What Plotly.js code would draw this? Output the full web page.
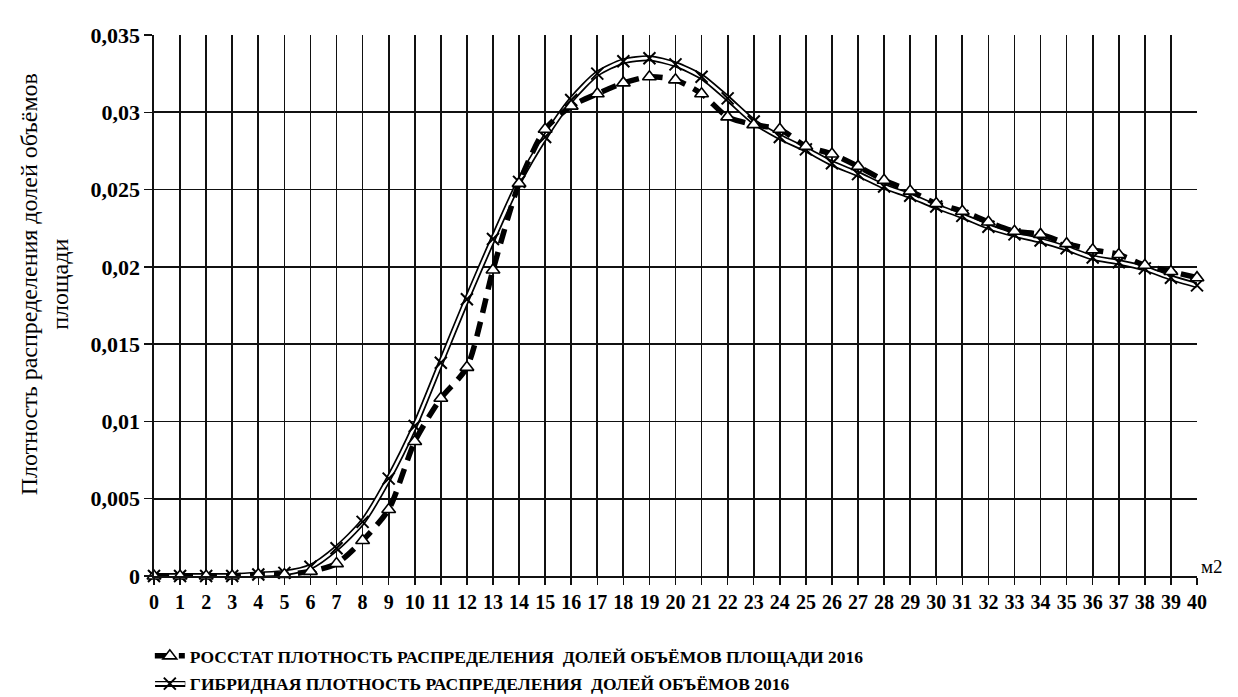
<!DOCTYPE html>
<html>
<head>
<meta charset="utf-8">
<script src="https://cdn.plot.ly/plotly-3.0.1.min.js"></script>
<style>html,body{margin:0;padding:0;background:#fff;}#chart{width:1238px;height:697px;}</style>
</head>
<body>
<div id="chart"></div>
<script>
const area = [0,1,2,3,4,5,6,7,8,9,10,11,12,13,14,15,16,17,18,19,20,21,22,23,24,25,26,27,28,29,30,31,32,33,34,35,36,37,38,39,40];
const rosstat = [0,0,0,0,0.0001,0.0001,0.0003,0.0008,0.0023,0.0043,0.0087,0.0115,0.0135,0.0198,0.0254,0.0289,0.0304,0.0312,0.0319,0.0323,0.0321,0.0312,0.0297,0.0292,0.0289,0.0278,0.0273,0.0265,0.0256,0.0249,0.0241,0.0236,0.0229,0.0223,0.0221,0.0215,0.0211,0.0208,0.0201,0.0197,0.0193];
const hybrid = [0,0,0,0,0.0001,0.0002,0.0006,0.0018,0.0035,0.0063,0.0097,0.0138,0.0179,0.0218,0.0255,0.0284,0.0308,0.0325,0.0333,0.0335,0.0331,0.0323,0.0309,0.0294,0.0284,0.0276,0.0267,0.026,0.0252,0.0246,0.0239,0.0233,0.0226,0.0221,0.0217,0.0212,0.0206,0.0203,0.0199,0.0193,0.0188];
const yTickVals = [0,0.005,0.01,0.015,0.02,0.025,0.03,0.035];
const yTickText = ['0','0,005','0,01','0,015','0,02','0,025','0,03','0,035'];
const nameRosstat = 'РОССТАТ ПЛОТНОСТЬ РАСПРЕДЕЛЕНИЯ  ДОЛЕЙ ОБЪЁМОВ ПЛОЩАДИ 2016';
const nameHybrid = 'ГИБРИДНАЯ ПЛОТНОСТЬ РАСПРЕДЕЛЕНИЯ  ДОЛЕЙ ОБЪЁМОВ 2016';
const yTitle = 'Плотность распределения долей объёмов<br>площади';
const xUnit = 'м2';

const serif = 'Liberation Serif, serif';

const traces = [
  {x: area, y: hybrid, mode: 'lines', showlegend: false, hoverinfo: 'skip', legendgroup: 'b',
   line: {color: '#000', width: 6, shape: 'spline', smoothing: 0.7}, cliponaxis: false},
  {x: area, y: hybrid, mode: 'lines+markers', name: nameHybrid, legendrank: 2, legendgroup: 'b',
   line: {color: '#fff', width: 2.6, shape: 'spline', smoothing: 0.7},
   marker: {symbol: 'x-thin', size: 12, color: '#000', line: {color: '#000', width: 2}}, cliponaxis: false},
  {x: area, y: rosstat, mode: 'lines+markers', name: nameRosstat, legendrank: 1, legendgroup: 'a',
   line: {color: '#000', width: 5.5, dash: '15px,9px', shape: 'spline', smoothing: 0.7},
   marker: {symbol: 'triangle-up', size: 12, color: '#fff', line: {color: '#000', width: 1.6}}, cliponaxis: false}
];

const layout = {
  width: 1238, height: 697,
  margin: {l: 154, r: 41, t: 35, b: 121, autoexpand: false},
  paper_bgcolor: '#fff', plot_bgcolor: '#fff',
  font: {family: serif, color: '#000'},
  showlegend: true,
  legend: {x: -0.004, y: -0.1146, xanchor: 'left', yanchor: 'top', orientation: 'v',
           font: {family: serif, size: 17.5, color: '#000', weight: 'bold'},
           itemwidth: 30, tracegroupgap: 2, traceorder: 'grouped', bgcolor: 'rgba(0,0,0,0)'},
  xaxis: {range: [0, 40], tickmode: 'array', tickvals: area, ticktext: area.map(String),
          tickangle: 0, showgrid: true, gridcolor: '#111', gridwidth: 1.7,
          showline: true, linecolor: '#111', linewidth: 1.7, zeroline: false,
          ticks: 'outside', ticklen: 7, tickcolor: '#111', tickwidth: 1.5,
          tickfont: {family: serif, size: 20, color: '#000', weight: 'bold'}, fixedrange: true},
  yaxis: {range: [0, 0.035], tickmode: 'array', tickvals: yTickVals, ticktext: yTickText,
          showgrid: true, gridcolor: '#111', gridwidth: 1.7,
          showline: true, linecolor: '#111', linewidth: 1.7, zeroline: false,
          ticks: 'outside', ticklen: 8, tickcolor: '#111', tickwidth: 1.5,
          tickfont: {family: serif, size: 22, color: '#000', weight: 'bold'}, fixedrange: true},
  shapes: [
    {type: 'line', xref: 'paper', yref: 'paper', x0: 0.001, x1: 0.030, y0: -0.1996, y1: -0.1996,
     line: {color: '#000', width: 6}}
  ],
  annotations: [
    {xref: 'paper', yref: 'paper', x: -0.105, y: 0.54, xanchor: 'center', yanchor: 'middle',
     text: yTitle, textangle: -90, showarrow: false,
     font: {family: serif, size: 24, color: '#000'}},
    {xref: 'paper', yref: 'paper', x: 1.002, y: 0.018, xanchor: 'left', yanchor: 'middle',
     text: xUnit, showarrow: false, font: {family: serif, size: 19, color: '#000'}}
  ]
};

Plotly.newPlot('chart', traces, layout, {displayModeBar: false, staticPlot: true});
</script>
</body>
</html>
